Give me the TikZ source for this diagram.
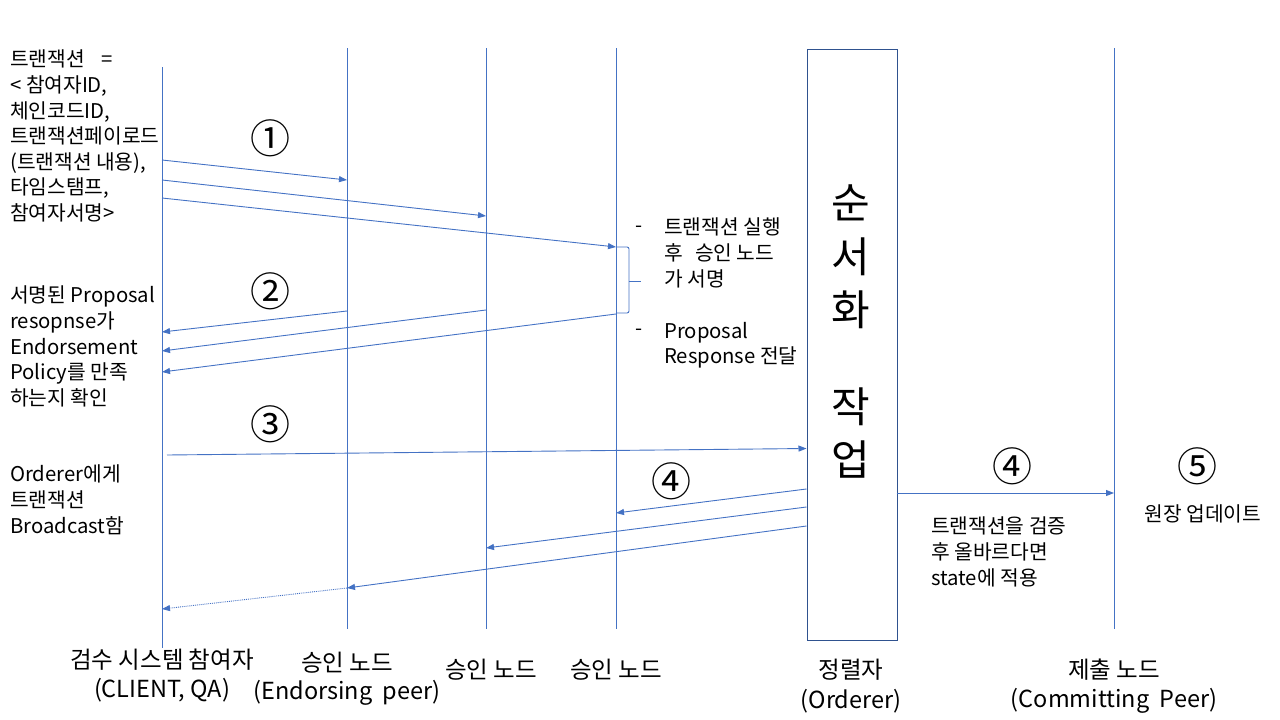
\documentclass[tikz,border=0pt]{standalone}
\usepackage{fontspec}
\setmainfont{Noto Sans CJK KR}
\usetikzlibrary{arrows.meta}
\definecolor{lineblue}{HTML}{4472C4}
\definecolor{boxblue}{HTML}{2F528F}
\begin{document}
\begin{tikzpicture}[x=1pt,y=-1pt,
  life/.style={draw=lineblue, line width=1pt},
  msg/.style={draw=lineblue, line width=0.9pt, -{Triangle[length=8pt,width=6pt]}},
  txt/.style={font=\fontsize{20.3}{25.6}\selectfont, align=left, inner sep=0pt, anchor=north west},
  num/.style={font=\fontsize{40}{40}\selectfont, inner sep=0pt},
  bigch/.style={font=\fontsize{42}{42}\selectfont, inner sep=0pt},
  caplbl/.style={font=\fontsize{23.5}{24}\selectfont, inner sep=0pt}]
\useasboundingbox (0,0) rectangle (1280,720);
% lifelines
\coordinate (cT) at (162,67);   \coordinate (cB) at (162,648);
\coordinate (e1T) at (347,48);  \coordinate (e1B) at (347,629);
\coordinate (e2T) at (486,48);  \coordinate (e2B) at (486,629);
\coordinate (e3T) at (616,48);  \coordinate (e3B) at (616,629);
\coordinate (pT) at (1114,48);  \coordinate (pB) at (1114,629);
\draw[life] (cT) -- (cB);
\draw[life] (e1T) -- (e1B);
\draw[life] (e2T) -- (e2B);
\draw[life] (e3T) -- (e3B);
\draw[life] (pT) -- (pB);
\node[draw=boxblue, line width=1.3pt, minimum width=90pt, minimum height=591pt, inner sep=0pt, anchor=north west] (ord) at (806.5,48.5) {};
% message end points
\coordinate (a1s) at (162,160); \coordinate (a1e) at (347,180);
\coordinate (a2s) at (162,180); \coordinate (a2e) at (486,216);
\coordinate (a3s) at (162,198); \coordinate (a3e) at (616,247);
\coordinate (b1s) at (347,311); \coordinate (b1e) at (162,332);
\coordinate (b2s) at (486,310); \coordinate (b2e) at (162,351);
\coordinate (b3s) at (616,314); \coordinate (b3e) at (162,372);
\coordinate (c1s) at (167,455); \coordinate (c1e) at (806.5,448.5);
\coordinate (d1s) at (806.5,489); \coordinate (d1e) at (616,513);
\coordinate (d2s) at (806.5,507); \coordinate (d2e) at (486,548);
\coordinate (d3s) at (806.5,526); \coordinate (d3e) at (347,588);
\coordinate (d4e) at (162,609);
\coordinate (f1s) at (896.5,493); \coordinate (f1e) at (1114,493);
\draw[msg] (a1s) -- (a1e);
\draw[msg] (a2s) -- (a2e);
\draw[msg] (a3s) -- (a3e);
\draw[msg] (b1s) -- (b1e);
\draw[msg] (b2s) -- (b2e);
\draw[msg] (b3s) -- (b3e);
\draw[msg] (c1s) -- (c1e);
\draw[msg] (d1s) -- (d1e);
\draw[msg] (d2s) -- (d2e);
\draw[msg] (d3s) -- (d3e);
\draw[msg, densely dotted] (d3e) -- (d4e);
\draw[msg] (f1s) -- (f1e);
% brace
\coordinate (brT) at (617,247); \coordinate (brB) at (617,313); \coordinate (brM) at (641,281);
\draw[lineblue, line width=0.9pt, rounded corners=2pt] (brT) -- (629,247) -- (629,313) -- (brB);
\draw[lineblue, line width=0.9pt] (629,281) -- (brM);
% circled numbers
\node[num] (n1) at (270,138) {①};
\node[num] (n2) at (270,291) {②};
\node[num] (n3) at (270,424) {③};
\node[num] (n4a) at (671,481) {④};
\node[num] (n4b) at (1012,466) {④};
\node[num] (n5) at (1197,466) {⑤};
% left texts
\node[txt] (t1) at (10,50) {트랜잭션\hspace{0.8em}=\\<\ 참여자ID,\\체인코드ID,\\트랜잭션페이로드\\(트랜잭션 내용),\\타임스탬프,\\참여자서명>};
\node[txt] (t2) at (10,286) {서명된 Proposal\\resopnse가\\Endorsement\\Policy를 만족\\하는지 확인};
\node[txt] (t3) at (10,465) {Orderer에게\\트랜잭션\\Broadcast함};
% right of endorsers
\node[txt, anchor=center] (dash1) at (639,229) {-};
\node[txt] (r1) at (664,218) {트랜잭션 실행\\후\hspace{0.6em}승인 노드\\가 서명};
\node[txt, anchor=center] (dash2) at (639,332) {-};
\node[txt] (r2) at (664,322) {Proposal\\Response 전달};
% commit texts
\node[txt] (s1) at (931,517) {트랜잭션을 검증\\후 올바르다면\\state에 적용};
\node[txt, anchor=center] (s2) at (1203,514) {원장 업데이트};
% orderer vertical text
\node[bigch] (o1) at (851,203) {순};
\node[bigch] (o2) at (851,257) {서};
\node[bigch] (o3) at (851,310) {화};
\node[bigch] (o4) at (851,407) {작};
\node[bigch] (o5) at (851,460) {업};
% captions
\node[caplbl] (l1a) at (162,660) {검수 시스템 참여자};
\node[caplbl] (l1b) at (162,690) {(CLIENT, QA)};
\node[caplbl] (l2a) at (347,663) {승인 노드};
\node[caplbl] (l2b) at (347,693) {(Endorsing\ \ peer)};
\node[caplbl] (l3) at (491,670) {승인 노드};
\node[caplbl] (l4) at (616,670) {승인 노드};
\node[caplbl] (l5a) at (851,670) {정렬자};
\node[caplbl] (l5b) at (851,701) {(Orderer)};
\node[caplbl] (l6a) at (1114,670) {제출 노드};
\node[caplbl] (l6b) at (1114,701) {(Committing\ \ Peer)};
\end{tikzpicture}
\end{document}
